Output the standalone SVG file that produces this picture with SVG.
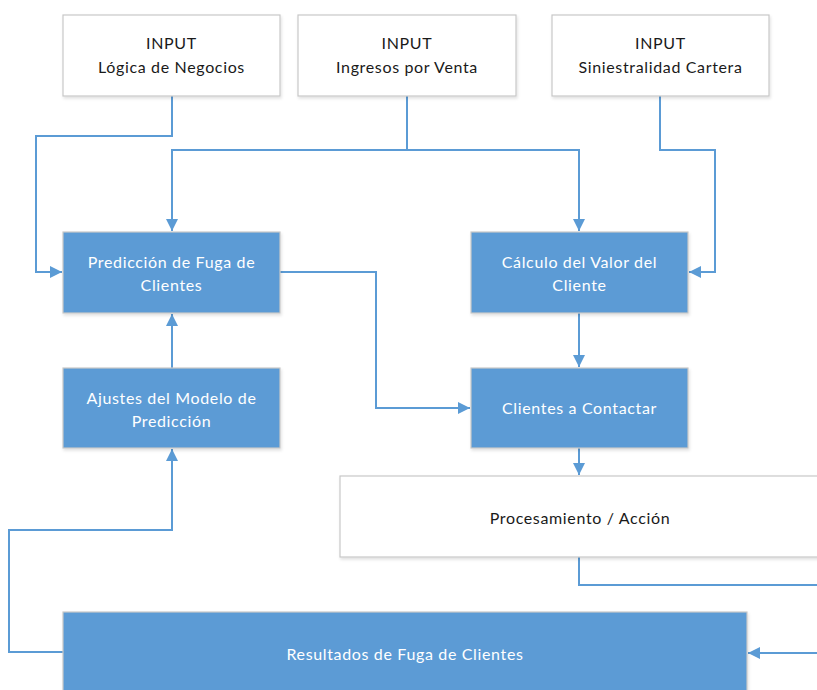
<svg xmlns="http://www.w3.org/2000/svg" width="817" height="690" viewBox="0 0 817 690">
  <defs>
    <style>
      .box { stroke: #c8c8c8; stroke-width: 1.2; filter: url(#shadow); }
      .in { fill: #ffffff; }
      .act { fill: #5b9bd5; }
      .lbl { font-family: Lato, "Open Sans", sans-serif; font-size: 16px; letter-spacing: 0.65px; text-anchor: middle; }
      .dark { fill: #1a1a1a; }
      .light { fill: #ffffff; }
      .wire { fill: none; stroke: #5b9bd5; stroke-width: 2; }
    </style>
    <filter id="shadow" x="-5%" y="-5%" width="110%" height="115%">
      <feDropShadow dx="1" dy="2" stdDeviation="1.5" flood-color="#000" flood-opacity="0.12"/>
    </filter>
    <marker id="arrow" viewBox="0 0 10 10" refX="10" refY="5" markerWidth="6" markerHeight="6" markerUnits="strokeWidth" orient="auto">
      <path d="M0,0 L10,5 L0,10 z" fill="#5b9bd5"/>
    </marker>
  </defs>
  <rect width="817" height="690" fill="#ffffff"/>

  <!-- connectors -->
  <g id="connectors">
    <path class="wire" d="M172,96 V136 H36 V272 H62" marker-end="url(#arrow)"/>
    <path class="wire" d="M407,96 V150 H172 V231" marker-end="url(#arrow)"/>
    <path class="wire" d="M407,150 H579 V231" marker-end="url(#arrow)"/>
    <path class="wire" d="M660,96 V150 H715 V272 H689" marker-end="url(#arrow)"/>
    <path class="wire" d="M280,272 H376 V408 H470" marker-end="url(#arrow)"/>
    <path class="wire" d="M172,368 V314" marker-end="url(#arrow)"/>
    <path class="wire" d="M579,313 V367" marker-end="url(#arrow)"/>
    <path class="wire" d="M579,448 V475" marker-end="url(#arrow)"/>
    <path class="wire" d="M579,557 V585 H817"/>
    <path class="wire" d="M817,653 H748" marker-end="url(#arrow)"/>
    <path class="wire" d="M63,652 H9 V530 H172 V449" marker-end="url(#arrow)"/>
  </g>

  <g id="input-logica">
    <rect class="box in" x="63" y="15" width="217" height="81"/>
    <text class="lbl dark" x="171.5" y="49">INPUT</text>
    <text class="lbl dark" x="171.5" y="73">Lógica de Negocios</text>
  </g>
  <g id="input-ingresos">
    <rect class="box in" x="298" y="15" width="218" height="81"/>
    <text class="lbl dark" x="407" y="49">INPUT</text>
    <text class="lbl dark" x="407" y="73">Ingresos por Venta</text>
  </g>
  <g id="input-siniestralidad">
    <rect class="box in" x="552" y="15" width="217" height="81"/>
    <text class="lbl dark" x="660.5" y="49">INPUT</text>
    <text class="lbl dark" x="660.5" y="73">Siniestralidad Cartera</text>
  </g>

  <g id="prediccion">
    <rect class="box act" x="63" y="232" width="217" height="81"/>
    <text class="lbl light" x="171.5" y="268">Predicción de Fuga de</text>
    <text class="lbl light" x="171.5" y="291">Clientes</text>
  </g>
  <g id="calculo">
    <rect class="box act" x="471" y="232" width="217" height="81"/>
    <text class="lbl light" x="579.5" y="268">Cálculo del Valor del</text>
    <text class="lbl light" x="579.5" y="291">Cliente</text>
  </g>
  <g id="ajustes">
    <rect class="box act" x="63" y="368" width="217" height="80"/>
    <text class="lbl light" x="171.5" y="404">Ajustes del Modelo de</text>
    <text class="lbl light" x="171.5" y="427">Predicción</text>
  </g>
  <g id="clientes-contactar">
    <rect class="box act" x="471" y="368" width="217" height="80"/>
    <text class="lbl light" x="579.5" y="414">Clientes a Contactar</text>
  </g>
  <g id="procesamiento">
    <rect class="box in" x="340" y="476" width="480" height="81"/>
    <text class="lbl dark" x="580" y="524">Procesamiento / Acción</text>
  </g>
  <g id="resultados">
    <rect class="box act" x="63" y="612" width="684" height="90"/>
    <text class="lbl light" x="405" y="660">Resultados de Fuga de Clientes</text>
  </g>
</svg>
